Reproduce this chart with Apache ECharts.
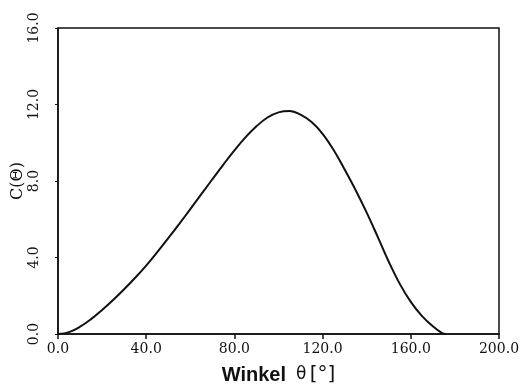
<!DOCTYPE html>
<html>
<head>
<meta charset="utf-8">
<script src="https://cdn.jsdelivr.net/npm/echarts@6/dist/echarts.min.js"></script>
<style>
  html, body { margin: 0; padding: 0; background: #fff; }
  #chart { width: 522px; height: 388px; }
</style>
</head>
<body>
<div id="chart"></div>
<script>
// angle in degrees and C(theta)
const theta = [0, 5, 10, 15, 20, 25, 30, 35, 40, 45, 50, 55, 60, 65, 70, 75, 80, 85, 90, 95,
  100, 105, 110, 115, 120, 125, 130, 135, 140, 145, 150, 155, 160, 165, 170, 174, 176]
const cValues = [0, 0.1, 0.38, 0.78, 1.26, 1.78, 2.34, 2.94, 3.58, 4.28, 5.01, 5.76, 6.53, 7.31, 8.09, 8.86, 9.6, 10.28, 10.86, 11.32,
  11.59, 11.66, 11.47, 11.08, 10.47, 9.62, 8.6, 7.52, 6.35, 5.08, 3.78, 2.62, 1.68, 0.95, 0.4, 0.06, 0]

const xTicks = { min: 0, max: 200, interval: 40 }
const yTicks = { min: 0, max: 16, interval: 4 }

const chart = echarts.init(document.getElementById('chart'))

const labelFont = { fontFamily: 'DejaVu Serif', fontSize: 14, color: '#111' }

chart.setOption({
  animation: false,
  grid: {
    left: 58, right: 23, top: 28, bottom: 54,
    containLabel: false,
    outerBoundsMode: 'none',
    show: true, borderColor: '#111', borderWidth: 1.5,
  },
  xAxis: {
    type: 'value',
    ...xTicks,
    name: '{b|Winkel}   {t|θ} {k|[°]}',
    nameLocation: 'middle',
    nameGap: 31,
    nameMoveOverlap: false,
    nameTextStyle: {
      rich: {
        b: { fontFamily: 'Liberation Sans', fontWeight: 'bold', fontSize: 20, color: '#111' },
        t: { fontFamily: 'DejaVu Sans', fontSize: 17, color: '#111' },
        k: { fontFamily: 'DejaVu Sans', fontSize: 20, color: '#111' },
      },
    },
    axisLine: { show: true, lineStyle: { color: '#111', width: 1.5 } },
    axisTick: { show: true, inside: false, length: 5, lineStyle: { color: '#111', width: 1.5 } },
    axisLabel: { ...labelFont, margin: 8, formatter: v => v.toFixed(1) },
    splitLine: { show: false },
  },
  yAxis: {
    type: 'value',
    ...yTicks,
    name: 'C(Θ)',
    nameLocation: 'middle',
    nameRotate: 90,
    nameGap: 32,
    nameMoveOverlap: false,
    nameTextStyle: { fontFamily: 'DejaVu Serif', fontSize: 16, color: '#111' },
    axisLine: { show: true, lineStyle: { color: '#111', width: 1.5 } },
    axisTick: { show: true, inside: false, length: 3, lineStyle: { color: '#111', width: 1 } },
    axisLabel: { ...labelFont, rotate: 90, margin: 17, formatter: v => v.toFixed(1) },
    splitLine: { show: false },
  },
  series: [{
    type: 'line',
    data: theta.map((t, i) => [t, cValues[i]]),
    smooth: 0.4,
    showSymbol: false,
    lineStyle: { color: '#111', width: 2 },
  }],
})
</script>
</body>
</html>
